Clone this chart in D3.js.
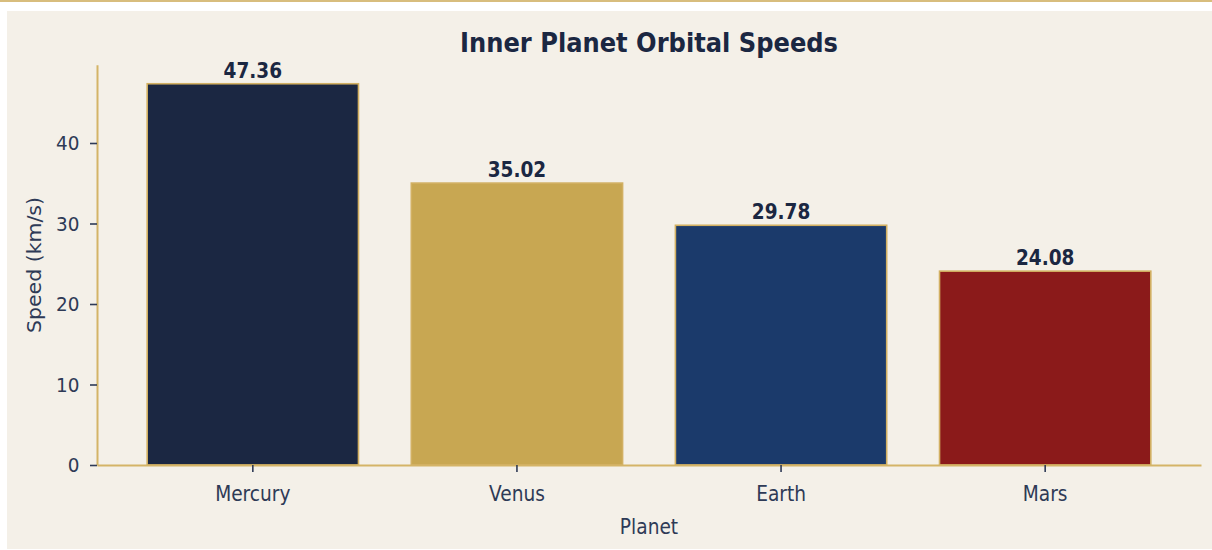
<!DOCTYPE html>
<html>
<head>
<meta charset="utf-8">
<script src="https://cdn.jsdelivr.net/npm/d3@7/dist/d3.min.js"></script>
<style>
  html, body { margin: 0; padding: 0; background: #ffffff; }
  svg { display: block; }
  text { font-family: "DejaVu Sans", sans-serif; }
</style>
</head>
<body>
<svg id="chart" width="1212" height="550"></svg>
<script>
const planets = ["Mercury", "Venus", "Earth", "Mars"];
const speeds = [47.36, 35.02, 29.78, 24.08];
const barColors = ["#1b2742", "#c8a752", "#1b3a6b", "#8b1a1a"];
const yTicks = [0, 10, 20, 30, 40];
const titleText = "Inner Planet Orbital Speeds";
const xLabel = "Planet";
const yLabel = "Speed (km/s)";

const W = 1212, H = 550;
const margin = { left: 97, right: 11, top: 64, bottom: 85 };
const gold = "#d4b467";
const ink = "#1b2742";
const tickInk = "#2e3a56";
const vs = 1.1; // vertical stretch of glyphs

const svg = d3.select("#chart");

// top rule + panel
svg.append("rect").attr("x", 0).attr("y", 0).attr("width", W).attr("height", 2).attr("fill", "#d8bd7d");
svg.append("rect").attr("x", 7).attr("y", 11).attr("width", W - 7).attr("height", 538).attr("fill", "#f4f0e8");

const x = d3.scaleBand().domain(planets)
  .range([margin.left, W - margin.right])
  .paddingInner(0.2).paddingOuter(0.19);
const yMax = d3.max(speeds) * 1.05;
const y = d3.scaleLinear().domain([0, yMax]).range([465, 465 - yMax * 8.05]);

function stretchedText(g, tx, ty, str) {
  return g.append("text").attr("transform", `translate(${tx},${ty}) scale(1,${vs})`).text(str);
}

// bars
svg.append("g").selectAll("rect").data(planets).join("rect")
  .attr("x", d => x(d))
  .attr("y", (d, i) => y(speeds[i]))
  .attr("width", x.bandwidth())
  .attr("height", (d, i) => y(0) - y(speeds[i]))
  .attr("fill", (d, i) => barColors[i])
  .attr("stroke", "#d2b062")
  .attr("stroke-width", 1.6);

// value labels
const vl = svg.append("g").attr("fill", ink).attr("font-weight", "bold").attr("font-size", 18.5).attr("text-anchor", "middle");
planets.forEach((p, i) => {
  stretchedText(vl, x(p) + x.bandwidth() / 2, y(speeds[i]) - 6, speeds[i].toFixed(2));
});

// y axis
const gy = svg.append("g").attr("transform", `translate(${margin.left},0)`)
  .call(d3.axisLeft(y).tickValues(yTicks).tickSize(7).tickSizeOuter(0).tickPadding(9));
gy.select(".domain").attr("stroke", gold).attr("stroke-width", 2);
gy.selectAll(".tick line").attr("stroke", tickInk).attr("stroke-width", 1.6);
gy.selectAll(".tick text").remove();
gy.selectAll(".tick").each(function(d) {
  const t = stretchedText(d3.select(this), -17.5, 6.5, d3.format("d")(d));
  t.attr("fill", tickInk).attr("font-size", 18.4).attr("text-anchor", "end");
});

// x axis
const gx = svg.append("g").attr("transform", `translate(0,465)`)
  .call(d3.axisBottom(x).tickSize(7).tickSizeOuter(0).tickPadding(8));
gx.select(".domain").attr("stroke", gold).attr("stroke-width", 2.2);
gx.selectAll(".tick line").attr("stroke", tickInk).attr("stroke-width", 1.6);
gx.selectAll(".tick text").remove();
gx.selectAll(".tick").each(function(d) {
  const t = stretchedText(d3.select(this), 0, 36, d);
  t.attr("fill", tickInk).attr("font-size", 18.6).attr("text-anchor", "middle");
});

// axis labels
stretchedText(svg, (margin.left + W - margin.right) / 2, 534, xLabel)
  .attr("fill", tickInk).attr("font-size", 18.6).attr("text-anchor", "middle");
svg.append("text")
  .attr("transform", `translate(41,265) rotate(-90) scale(${vs},1)`)
  .attr("fill", tickInk).attr("font-size", 18.6).attr("text-anchor", "middle")
  .text(yLabel);

// title
stretchedText(svg, (margin.left + W - margin.right) / 2, 52, titleText)
  .attr("fill", ink).attr("font-size", 24.2).attr("font-weight", "bold").attr("text-anchor", "middle");
</script>
</body>
</html>
